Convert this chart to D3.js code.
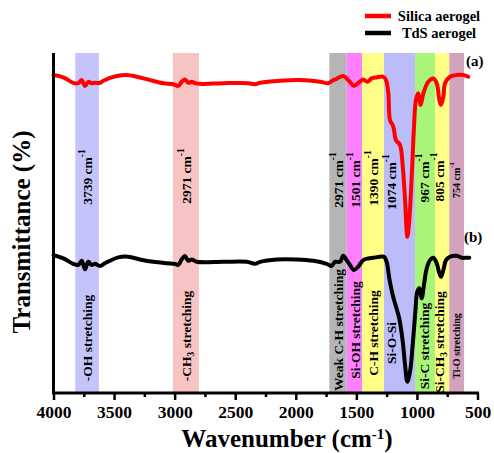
<!DOCTYPE html>
<html>
<head>
<meta charset="utf-8">
<script src="https://cdn.jsdelivr.net/npm/d3@7"></script>
<style>
  html, body { margin: 0; padding: 0; background: #fff; }
  svg { display: block; }
  text { font-family: "Times New Roman", "Liberation Serif", serif; font-weight: bold; fill: #000; }
</style>
</head>
<body>
<svg id="chart" width="494" height="453"></svg>
<script>
// FTIR spectra: wavenumber (cm-1) and transmittance (arbitrary offset units)
const silicaWavenumber = [4000, 3919, 3837, 3795, 3767, 3740, 3713, 3685, 3657, 3616, 3589, 3478, 3396, 3313, 3203, 3094, 3011, 2970, 2942, 2915, 2887, 2859, 2832, 2791, 2598, 2392, 2337, 2295, 2130, 1965, 1800, 1732, 1704, 1676, 1608, 1580, 1553, 1520, 1484, 1443, 1410, 1373, 1332, 1278, 1255, 1236, 1222, 1195, 1173, 1140, 1117, 1098, 1079, 1063, 1043, 1024, 1008, 989, 969, 947, 906, 865, 837, 815, 801, 782, 768, 727, 672, 617, 576];
const silicaValues = [93.5, 92.8, 91.2, 91.1, 92.0, 90.3, 91.5, 91.1, 91.2, 91.2, 91.8, 93.2, 93.5, 93.0, 92.0, 91.1, 90.8, 90.3, 91.5, 92.2, 91.2, 91.5, 91.1, 90.9, 91.1, 91.1, 90.8, 91.2, 91.8, 92.0, 91.5, 91.1, 91.7, 92.2, 93.2, 92.5, 91.5, 90.3, 91.2, 92.2, 91.5, 92.5, 92.8, 93.0, 92.0, 88.1, 80.2, 78.3, 74.3, 72.9, 66.5, 56.6, 45.8, 50.7, 63.5, 78.3, 86.2, 88.1, 84.7, 88.1, 91.5, 92.5, 91.1, 86.2, 84.7, 87.1, 91.1, 93.0, 93.5, 93.5, 93.0];

const tdsWavenumber = [4000, 3919, 3837, 3795, 3767, 3740, 3713, 3685, 3657, 3616, 3575, 3465, 3383, 3286, 3176, 3066, 2997, 2970, 2942, 2915, 2887, 2859, 2818, 2598, 2405, 2337, 2295, 2158, 1992, 1855, 1745, 1704, 1676, 1635, 1608, 1580, 1553, 1520, 1484, 1443, 1401, 1360, 1305, 1272, 1250, 1228, 1200, 1173, 1146, 1117, 1098, 1079, 1057, 1035, 1013, 997, 980, 961, 942, 919, 892, 865, 837, 815, 801, 782, 760, 727, 672, 630, 589, 568];
const tdsValues = [40.4, 39.4, 37.8, 37.5, 38.7, 36.2, 38.4, 37.5, 37.8, 37.2, 38.0, 39.7, 39.9, 39.1, 38.4, 38.0, 37.8, 37.5, 39.1, 40.1, 38.7, 39.1, 38.4, 38.4, 38.4, 37.8, 38.4, 39.1, 39.1, 38.7, 37.8, 37.2, 38.4, 38.4, 40.2, 38.9, 37.5, 36.0, 37.0, 38.9, 39.4, 39.6, 39.9, 39.9, 38.4, 33.5, 28.6, 25.2, 21.7, 14.8, 8.0, 3.0, 6.0, 13.9, 23.7, 29.6, 30.6, 27.6, 31.6, 36.5, 38.9, 39.6, 38.0, 35.0, 34.0, 36.0, 38.9, 39.9, 40.2, 39.6, 39.6, 39.6];

// Assignment bands (wavenumber ranges)
const bandStart = [3820, 3015, 1723, 1580, 1453, 1272, 1016, 851, 733];
const bandEnd   = [3625, 2800, 1580, 1453, 1272, 1016, 851, 733, 611];
const bandPeak  = ["3739", "2971", "2971", "1501", "1390", "1074", "967", "805", "754"];
const bandMode  = ["-OH stretching", "-CH|3| stretching", "Weak C-H stretching", "Si-OH stretching", "C-H stretching", "Si-O-Si", "Si-C stretching", "Si-CH|3| stretching", "Ti-O stretching"];
const bandColor = ["#c4c4fb", "#f7c4c4", "#b5b5b5", "#ff80ff", "#ffff88", "#bcbcf8", "#a8f57a", "#ffff88", "#d3a3bd"];

const xTicks = [4000, 3500, 3000, 2500, 2000, 1500, 1000, 500];
const xMinorTicks = [3750, 3250, 2750, 2250, 1750, 1250, 750];

const seriesNames = ["Silica aerogel", "TdS aerogel"];
const seriesColors = ["#ff0000", "#000000"];

// Layout of the text inside each band
const labelX = [3726, 2909, 1652, 1511, 1365, 1214, 942, 818, 678];
const peakLabelY = [177, 176, 180, 180, 178, 182, 178, 177, 180];
const modeLabelY = [338, 336, 330, 330, 333, 343, 346, 342, 346];
const labelSize = [13.5, 13.5, 13.5, 13.5, 13.5, 13.5, 13.5, 13.5, 10];

const svg = d3.select("#chart");
const x = d3.scaleLinear().domain([4000, 500]).range([53.5, 477.5]);
const y = d3.scaleLinear().domain([0, 100]).range([392, 53]);
const yTop = y(100), yBottom = y(0);

// bands
svg.append("g").selectAll("rect").data(bandStart).join("rect")
  .attr("x", (d, i) => x(d))
  .attr("width", (d, i) => x(bandEnd[i]) - x(d))
  .attr("y", yTop)
  .attr("height", yBottom - yTop)
  .attr("fill", (d, i) => bandColor[i]);

// peak labels (cm-1)
const peakG = svg.append("g");
bandPeak.forEach((p, i) => {
  const t = peakG.append("text")
    .attr("transform", `translate(${x(labelX[i])},${peakLabelY[i]}) rotate(-90)`)
    .attr("text-anchor", "middle")
    .attr("dominant-baseline", "central")
    .style("font-size", labelSize[i] + "px");
  t.append("tspan").text(p + " cm");
  t.append("tspan").attr("baseline-shift", "super").style("font-size", (labelSize[i] * 0.7) + "px").text("-1");
});

// vibration mode labels (segments between | are subscripts)
const modeG = svg.append("g");
bandMode.forEach((m, i) => {
  const t = modeG.append("text")
    .attr("transform", `translate(${x(labelX[i])},${modeLabelY[i]}) rotate(-90)`)
    .attr("text-anchor", "middle")
    .attr("dominant-baseline", "central")
    .style("font-size", labelSize[i] + "px");
  m.split("|").forEach((part, k) => {
    const s = t.append("tspan").text(part);
    if (k % 2 === 1) s.attr("baseline-shift", "sub").style("font-size", (labelSize[i] * 0.7) + "px");
  });
});

// spectra
const line = d3.line().curve(d3.curveCatmullRom.alpha(0.5));
const spectra = [
  silicaWavenumber.map((w, i) => [x(w), y(silicaValues[i])]),
  tdsWavenumber.map((w, i) => [x(w), y(tdsValues[i])])
];
svg.append("g").selectAll("path").data(spectra).join("path")
  .attr("d", d => line(d))
  .attr("fill", "none")
  .attr("stroke", (d, i) => seriesColors[i])
  .attr("stroke-width", 4)
  .attr("stroke-linejoin", "round")
  .attr("stroke-linecap", "round");

// x axis
const axisG = svg.append("g").attr("transform", `translate(0,${yBottom + 1})`);
axisG.call(d3.axisBottom(x).tickValues(xTicks).tickSize(7).tickSizeOuter(0).tickPadding(6).tickFormat(d3.format("d")));
axisG.append("g").call(d3.axisBottom(x).tickValues(xMinorTicks).tickSize(4).tickSizeOuter(0).tickFormat(""))
  .select(".domain").remove();
axisG.selectAll(".domain").attr("stroke-width", 3).attr("d", `M${x(4000) - 1},0H${x(500) + 1.5}`);
axisG.selectAll(".tick line").attr("stroke-width", 2.5);
axisG.selectAll(".tick text")
  .style("font-size", "17.5px")
  .style("font-family", "\"Times New Roman\", \"Liberation Serif\", serif")
  .style("font-weight", "bold");

// y axis line (no ticks)
svg.append("line")
  .attr("x1", x(4000)).attr("x2", x(4000))
  .attr("y1", yTop).attr("y2", yBottom + 2)
  .attr("stroke", "#000").attr("stroke-width", 3);

// axis titles
const xt = svg.append("text").attr("x", 287).attr("y", 447).attr("text-anchor", "middle").style("font-size", "25px");
xt.append("tspan").text("Wavenumber (cm");
xt.append("tspan").attr("baseline-shift", "super").style("font-size", "15px").text("-1");
xt.append("tspan").text(")");

svg.append("text")
  .attr("transform", "translate(30,232) rotate(-90)")
  .attr("text-anchor", "middle")
  .style("font-size", "25px")
  .text("Transmittance (%)");

// curve tags
svg.append("text").attr("x", 466).attr("y", 66).style("font-size", "15px").text("(a)");
svg.append("text").attr("x", 464).attr("y", 242).style("font-size", "15px").text("(b)");

// legend
const legend = svg.append("g");
seriesNames.forEach((n, i) => {
  const ly = 16 + i * 17;
  legend.append("line").attr("x1", 365).attr("x2", 391).attr("y1", ly).attr("y2", ly)
    .attr("stroke", seriesColors[i]).attr("stroke-width", 4.5);
  legend.append("text").attr("x", 439).attr("y", ly + 4.5).attr("text-anchor", "middle")
    .style("font-size", "14.5px").text(n);
});
</script>
</body>
</html>
